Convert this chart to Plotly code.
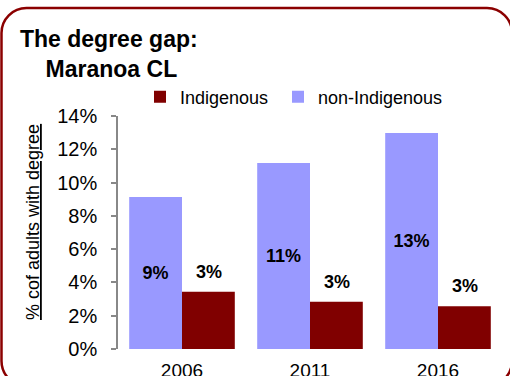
import plotly.graph_objects as go

# Census years and share of adults holding a degree
years = ["2006", "2011", "2016"]
non_indigenous = [0.0913, 0.1118, 0.1298]
indigenous = [0.0344, 0.0284, 0.0257]

tick_vals = [0, 0.02, 0.04, 0.06, 0.08, 0.10, 0.12, 0.14]

FONT = "Liberation Sans, Arial, sans-serif"
W, H = 510, 376
ML, MR, MT, MB = 118, 8, 116, 27
PW, PH = W - ML - MR, H - MT - MB


def px_to_paper(px, py):
    return (px - ML) / PW, (H - MB - py) / PH


fig = go.Figure()
fig.add_trace(go.Bar(
    x=years, y=non_indigenous, name="non-Indigenous", legend="legend2",
    marker=dict(color="#9999FF", line=dict(width=0)),
    texttemplate="%{y:.0%}", textposition="inside",
    insidetextanchor="middle", textangle=0,
    textfont=dict(family=FONT, size=18, color="black", weight="bold"),
))
fig.add_trace(go.Bar(
    x=years, y=indigenous, name="Indigenous", legend="legend",
    marker=dict(color="#800000", line=dict(width=0)),
))

# value labels floating above the Indigenous bars (x given as category index)
for i, v in enumerate(indigenous):
    fig.add_annotation(
        x=i, y=v, xref="x", yref="y", text=f"<b>{v:.0%}</b>",
        showarrow=False, xshift=26.5, yshift=20, yanchor="middle",
        font=dict(family=FONT, size=18, color="black"),
    )

# rotated, underlined axis caption
ax, ay = px_to_paper(21, 222)
fig.add_annotation(
    x=ax, y=ay, xref="paper", yref="paper", textangle=-90,
    text="<u>% cof adults with degree</u>", showarrow=False,
    font=dict(family=FONT, size=18, color="black"),
)

# rounded frame around the whole chart
left, right, top, bottom, r = 1.5, 512, 8, 386, 25
k = 0.5523 * r


def P(px, py):
    x, y = px_to_paper(px, py)
    return f"{x:.5f},{y:.5f}"


path = (
    f"M{P(left + r, top)} L{P(right - r, top)} "
    f"C{P(right - r + k, top)} {P(right, top + r - k)} {P(right, top + r)} "
    f"L{P(right, bottom - r)} "
    f"C{P(right, bottom - r + k)} {P(right - r + k, bottom)} {P(right - r, bottom)} "
    f"L{P(left + r, bottom)} "
    f"C{P(left + r - k, bottom)} {P(left, bottom - r + k)} {P(left, bottom - r)} "
    f"L{P(left, top + r)} "
    f"C{P(left, top + r - k)} {P(left + r - k, top)} {P(left + r, top)} Z"
)
fig.add_shape(type="path", path=path, xref="paper", yref="paper",
              line=dict(color="#8B0000", width=2.5), layer="below")

legend_font = dict(family=FONT, size=18, color="black")
l1x, l1y = px_to_paper(140, 97)
l2x, _ = px_to_paper(278, 97)
fig.update_layout(
    width=W, height=H,
    margin=dict(l=ML, r=MR, t=MT, b=MB, autoexpand=False),
    paper_bgcolor="white", plot_bgcolor="white",
    barmode="group", bargap=0.175, bargroupgap=0,
    font=dict(family=FONT, size=18, color="black"),
    title=dict(
        text="<b>The degree gap:<br>&nbsp;&nbsp;&nbsp;&nbsp;Maranoa CL</b>",
        x=20 / W, xanchor="left", xref="container",
        y=1 - 47 / H, yanchor="top", yref="container",
        font=dict(family=FONT, size=23, color="black"),
    ),
    legend=dict(
        orientation="h", x=l1x, y=l1y, xanchor="left", yanchor="middle",
        itemwidth=30, font=legend_font, bgcolor="rgba(0,0,0,0)",
    ),
    legend2=dict(
        orientation="h", x=l2x, y=l1y, xanchor="left", yanchor="middle",
        itemwidth=30, font=legend_font, bgcolor="rgba(0,0,0,0)",
    ),
    showlegend=True,
    xaxis=dict(
        type="category", range=[-0.5, len(years) - 0.5], autorange=False,
        showline=False, showgrid=False, ticks="",
        ticklabelstandoff=8, tickfont=dict(family=FONT, size=19),
    ),
    yaxis=dict(
        range=[0, 0.14], autorange=False, tickvals=tick_vals, tickformat=".0%",
        showgrid=False, zeroline=False,
        showline=True, linecolor="#888888", linewidth=1.5,
        ticks="outside", ticklen=5, tickcolor="#888888", tickwidth=1.5,
        ticklabelstandoff=10, tickfont=dict(family=FONT, size=20),
    ),
)

fig.write_html("out.html")
